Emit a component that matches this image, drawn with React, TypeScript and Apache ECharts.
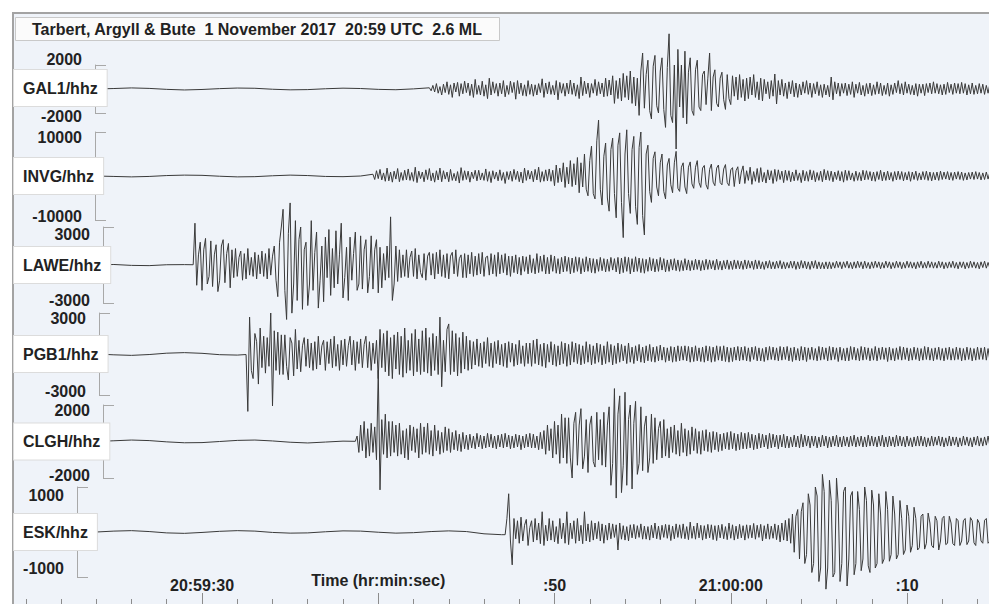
import React, { useEffect, useRef } from 'react';
import * as echarts from 'echarts';

// ---------- data (counts; time in seconds after 20:59:00 UTC) ----------
const TITLE = 'Tarbert, Argyll & Bute  1 November 2017  20:59 UTC  2.6 ML';
const STATIONS = ['GAL1/hhz', 'INVG/hhz', 'LAWE/hhz', 'PGB1/hhz', 'CLGH/hhz', 'ESK/hhz'];
const RANGES = [2000, 10000, 3000, 3000, 2000, 1000];
const ONSETS = [42.9, 39.7, 29.5, 32.5, 38.7, 47.2];
const PRE_START = 24;
const PRE_STEP = 1;
const SIG_STEP = 0.1;

const TIME_TICKS_MINOR = [20, 22, 24, 26, 28, 30, 32, 34, 36, 38, 40, 42, 44, 46, 48, 50, 52, 54, 56, 58, 60, 62, 64, 66, 68, 70, 72, 74];
const TIME_TICKS_MAJOR = [30, 40, 50, 60, 70];
const TIME_LABELS = ['20:59:30', 'Time (hr:min:sec)', ':50', '21:00:00', ':10'];

const GAL1_PRE = [0, 40, 90, 50, -30, -80, -40, 30, 80, 60, -20, -70, -50, 20, 70, 40, -30, -60, 10];
const GAL1_SIG = [
  100, -150, 300, -250, 450, -350, 200, -500, 400, -300, 600, -450, 350, -700, 500, -250, 550, -600, 450, -400,
  650, -300, 500, -550, 400, -700, 800, -450, 300, -500, 650, -600, 350, -800, 900, -500, 600, -350, 450, -600,
  500, -400, 700, -650, 300, -450, 650, -300, 550, -850, 700, -400, 500, -550, 350, -600, 700, -450, 400, -600,
  350, -500, 450, -300, 850, -700, 500, -400, 600, -450, 300, -500, 700, -900, 550, -350, 450, -600, 500, -400,
  750, -450, 500, -600, 350, -800, 1000, -550, 650, -400, 500, -700, 450, -350, 800, -550, 600, -400, 500, -650,
  900, -600, 750, -500, 1100, -1200, 700, -800, 900, -1000, 1300, -700, 1100, -900, 1500, -1200, 1000, -1400, 900, -2200,
  1500, 3000, -1600, 1200, 2400, -1800, -2500, 1900, 2800, -1400, -2000, 1500, 2600, -1700, -3200, 1800, 4600, -2200, -2800, 2000,
  -5000, 3300, -1500, 2000, -2400, 3150, -2900, 1400, 2600, -1800, -2200, 1600, 2400, -1500, -1800, 1200, 1500, -1300, 900, 3000,
  -1800, 1000, 1600, -1200, -1500, 900, 1400, -900, -1700, 1200, -800, -1300, 1100, -600, 1000, -900, 1200, -700, 800, -1000,
  900, -800, 1000, -500, 1200, -700, 600, -900, 900, -1000, 800, -400, 600, -800, 700, -600, 1250, -1250, 700, -500,
  800, -600, 500, -800, 600, -400, 700, -650, 500, -700, 400, -500, 600, -350, 700, -450, 500, -700, 450, -400,
  600, -550, 350, -700, 400, -500, 300, -650, 1000, -900, 600, -400, 500, -600, 450, -350, 500, -550, 400, -450,
  600, -700, 400, -350, 550, -500, 300, -600, 450, -400, 500, -550, 350, -450, 600, -400, 500, -550, 300, -450,
  500, -600, 350, -450, 500, -300, 700, -400, 450, -500, 600, -350, 400, -450, 300, -500, 450, -600, 400, -350,
  400, -550, 450, -300, 500, -400, 600, -350, 450, -400, 350, -500, 400, -450, 550, -300, 400, -450, 500, -350,
  450, -400, 550, -350, 450, -500, 350, -400, 500, -450, 300, -400, 450, -350, 400, -450, 300, -350, 400, -300,
];

const INVG_PRE = [0, -100, -200, -100, 100, 200, 150, -50, -200, -150, 50, 200, 100, -100, -150, 0];
const INVG_SIG = [
  400, -800, 1200, -600, 1500, -900, 700, -1200, 1800, -1100, 900, -1400, 1100, -700, 1700, -1300, 800, -1000, 1300, -900,
  1600, -1000, 800, -1200, 2000, -1500, 1100, -600, 900, -1300, 1400, -800, 1700, -1100, 700, -1400, 1200, -900, 1800, -1300,
  1200, -700, 900, -1300, 1500, -1000, 600, -1100, 1000, -1600, 1900, -1000, 1200, -800, 1100, -1400, 900, -600, 1300, -1100,
  1300, -900, 700, -1000, 1600, -1200, 1000, -1500, 1200, -700, 900, -1100, 1400, -1000, 800, -1700, 1000, -800, 1100, -1200,
  1500, -800, 1100, -1300, 900, -1600, 1800, -1000, 1300, -700, 1100, -1300, 1500, -900, 2000, -1400, 1000, -1200, 1400, -1100,
  1600, -1200, 1300, -2200, 2500, -1500, 1800, -1300, 3000, -2600, 2000, -1800, 3500, -2400, 2800, -2000, 4200, -3800, 3000, -2500,
  5000, -3000, -4500, 3500, 6800, -4000, -5200, 8000, 12700, -3000, -6600, 4500, 7500, -5000, -8000, 6000, 8600, -4000, -9500, 7000,
  9800, -6000, -14000, 5000, 10500, -4000, -8500, 6000, 9000, -7000, -11000, 6500, 10000, -9000, -13400, 5000, 7000, -3500, -6000, 4000,
  5500, -2500, -4500, 3000, 5000, -3500, -5200, 2500, 4000, -2000, -3800, 3000, 5600, -2800, -3500, 2000, 3000, -2500, -4000, 2000,
  3200, -1800, -2800, 2000, 3500, -1500, -2600, 1800, 2400, -2000, -3000, 1500, 2700, -1400, -2200, 1800, 2500, -1500, -2000, 1600,
  2600, -1500, -2200, 1400, 1900, -2400, 1200, 2100, -1800, 900, 2300, -1700, 1200, -1000, 2000, -1900, 1000, -1200, 1700, -1500,
  1900, -1300, 800, -1600, 1400, -900, 1200, -1700, 1500, -1200, 1400, -800, 1100, -1500, 1300, -1000, 1200, -1300, 900, -1100,
  1400, -1000, 700, -1500, 1300, -1100, 1000, -1200, 1400, -900, 1200, -1300, 800, -1000, 1100, -1300, 1500, -900, 1200, -1000,
  1100, -1300, 900, -800, 1200, -1100, 1000, -1400, 1300, -1000, 1200, -900, 700, -1200, 1100, -1000, 800, -1100, 1300, -900,
  1200, -800, 1000, -1100, 900, -1200, 1000, -800, 1300, -1100, 900, -1000, 1100, -900, 800, -1200, 1000, -900, 1100, -800,
  1000, -1100, 800, -900, 1000, -1200, 900, -800, 1100, -1000, 700, -900, 1000, -800, 1100, -1000, 900, -1100, 800, -900,
  900, -1000, 1100, -800, 900, -700, 1000, -900, 800, -1000, 900, -700, 1000, -800, 900, -1000, 700, -900, 800, -700,
  900, -800, 1000, -700, 800, -900, 700, -800, 900, -700, 800, -600,
];

const LAWE_PRE = [0, 40, -30, -50, 20, 30];
const LAWE_SIG = [
  20, 3300, -1600, 800, 1800, -2000, 1200, 2100, -1500, -900, 1900, -1700, 800, 1600, -2100, -1200, 1500, 2000, -1400, 900, 1700,
  -1800, 1200, -1000, 1300, -900, 600, 1100, -1200, 900, -1100, 1300, -800, 600, -900, 1000, -1100, 800, -700, 1100, -900,
  900, -1100, 1300, -800, 700, 1500, -1200, -2500, 1800, 3000, 4400, -2000, -4300, 2500, 4900, -3800, -1500, 3500, -2800, 2000,
  3000, -3500, 1200, 1800, -3200, -1500, 3500, -2000, 1000, 2600, -3400, -1200, 1500, -2900, 2200, -1000, 2800, -2400, 1300, -1800,
  2700, -1500, 800, 3300, -2600, -1000, 1400, -2800, 2200, -1200, 900, 2600, -2000, -1500, 2300, -1900, 1200, 2000, -2200, -900,
  2300, -1900, 1200, 2000, -2200, 1400, -1800, 900, -1200, 1500, -1000, 3800, -2800, -1500, 1500, -1300, 1200, -1000, 800, -900,
  1200, -1000, 600, 1100, -900, 1300, -1100, 800, -600, -1000, 900, -1200, 700, 1000, -800, 900, -1100, 1000, -700, 1200,
  -900, 800, -1000, 900, -1100, 700, 1000, -700, 1200, -900, 500, 800, -1000, 900, -1000, 800, -700, 1000, -900, 700,
  -800, 900, -700, 1000, -900, 600, 700, -800, 900, -700, 800, -900, 1000, -700, 800, -600, 900, -800, 700, -900,
  700, -600, 800, -700, 600, -800, 700, -500, 650, -700, 800, -600, 500, -700, 900, -600, 700, -500, 800, -700,
  600, -700, 800, -500, 700, -650, 500, -700, 600, -550, 700, -500, 600, -700, 550, -600, 650, -500, 600, -700,
  500, -550, 650, -500, 550, -600, 500, -650, 450, -500, 600, -450, 500, -550, 450, -500, 600, -400, 500, -550,
  600, -700, 550, -600, 650, -500, 600, -700, 500, -550, 650, -500, 550, -600, 500, -650, 450, -500, 600, -450,
  500, -550, 450, -500, 600, -400, 500, -550, 400, -500, 450, -400, 500, -450, 400, -500, 350, -450, 500, -400,
  400, -450, 350, -400, 450, -350, 400, -450, 350, -400, 450, -350, 400, -300, 350, -400, 450, -350, 300, -400,
  350, -300, 400, -350, 300, -350, 400, -300, 350, -300, 300, -350, 400, -300, 350, -250, 300, -350, 400, -300,
  350, -300, 250, -350, 300, -250, 350, -300, 250, -300, 300, -250, 350, -300, 250, -300, 200, -250, 300, -250,
  300, -350, 250, -300, 350, -250, 300, -300, 250, -350, 300, -250, 350, -300, 250, -300, 200, -300, 250, -300,
  250, -300, 200, -250, 300, -200, 250, -300, 250, -200, 300, -250, 200, -300, 250, -250, 300, -200, 250, -300,
  300, -250, 200, -300, 250, -250, 300, -200, 250, -300, 200, -250, 300, -200, 250, -300, 200, -250, 300, -200,
  250, -300, 200, -250, 300, -200, 250, -250, 200, -300, 250, -200, 300, -250, 200, -250, 300, -200, 250, -250,
  200, -250, 300, -200, 250, -300, 200, -250, 250, -200, 300, -250, 200, -300, 250, -200, 250, -300, 200, -250,
  300, -200, 250, -250, 200, -300, 250, -200, 300, -250, 200, -250, 300, -200,
];

const PGB1_PRE = [0, -60, -100, -40, 60, 100, 50, -50, -80];
const PGB1_SIG = [
  -40, -4200, 2700, -1200, -1800, 1500, 900, -2200, 1900, -1000, 1300, -1400, 1200, -900, 3000, -3800, 1700, -1200, 1600, -1500, 1400,
  -1500, 1400, -900, -1900, 1200, 800, -1600, 1800, -1100, 1000, -1300, 600, 1200, -900, 1100, -1000, 800, -1200, 900, -1100,
  1300, -800, 600, 1000, -1200, 900, -700, 1100, -1000, 1300, -900, 700, -1200, 1000, -800, 1100, -900, 600, 1300, -800,
  1000, -1200, 900, -700, 1100, -1000, 700, 1300, -1000, 900, -1200, 800, -700, 1000, -1800, 1800, -1000, 1500, -1300, 1700,
  -1600, 1200, -1800, 1400, -1100, 1600, -1500, 1300, -1700, 1900, -1400, 1000, -1200, 1500, -1600, 1800, -1300, 1100, -1500, 1700,
  -1300, 1900, -1400, 1200, -1600, 1500, -1200, 1300, -1500, 2700, -2400, 1000, -1300, 1800, 2200, -1500, 1700, -1300, 1500, -1600,
  1200, -1400, 1600, -1100, 1300, -1200, 1000, -1100, 900, -800, 1100, -900, 800, -1000, 900, -700, 1200, -900, 800, -1000,
  900, -700, 1000, -800, 700, -900, 800, -1000, 900, -600, 800, -900, 700, -800, 1000, -700, 600, -900, 800, -700,
  800, -900, 1000, -700, 1100, -800, 700, -900, 800, -1000, 700, -600, 900, -800, 700, -900, 600, -800, 900, -700,
  800, -900, 700, -800, 900, -600, 800, -700, 700, -800, 600, -700, 900, -600, 700, -800, 600, -700, 800, -600,
  700, -800, 600, -700, 900, -600, 700, -800, 600, -700, 800, -600, 700, -500, 600, -700, 800, -600, 500, -700,
  600, -500, 700, -600, 500, -650, 600, -500, 700, -550, 500, -600, 550, -500, 650, -450, 500, -600, 450, -500,
  550, -600, 500, -550, 600, -500, 550, -450, 600, -500, 550, -600, 500, -550, 600, -500, 450, -550, 500, -600,
  600, -500, 550, -600, 500, -550, 600, -450, 550, -500, 600, -550, 500, -600, 450, -550, 500, -450, 550, -500,
  500, -450, 550, -500, 450, -550, 500, -400, 550, -500, 450, -500, 400, -550, 500, -450, 550, -400, 500, -450,
  450, -500, 550, -450, 500, -400, 550, -500, 450, -550, 500, -450, 400, -500, 550, -450, 500, -550, 450, -400,
  500, -450, 400, -500, 550, -450, 500, -400, 450, -500, 550, -450, 500, -400, 450, -550, 500, -450, 400, -500,
  450, -500, 550, -400, 500, -450, 400, -500, 550, -450, 500, -400, 450, -500, 400, -450, 550, -500, 450, -400,
  500, -400, 450, -550, 500, -450, 400, -500, 450, -400, 550, -450, 500, -400, 450, -500, 400, -450, 500, -400,
  450, -500, 400, -450, 550, -400, 500, -450, 400, -500, 450, -400, 500, -450, 400, -500, 450, -400, 500, -450,
  400, -450, 500, -400, 450, -500, 400, -450, 500, -400, 450, -500, 400, -450, 500, -400, 450, -400, 500, -450,
  400, -450, 400,
];

const CLGH_PRE = [0, 40, 80, 50, -20, -70, -60, 0, 60, 80, 30, -40, -80, -30, 20];
const CLGH_SIG = [
  10, 300, -600, 900, -500, 1100, -900, 700, -800, 1000, -600, 800, -1000, 3900, -2650, 1200, -700, 1500, -900, 1100, -800,
  1100, -600, 900, -800, 1000, -700, 600, -900, 700, -1000, 900, -500, 800, -600, 700, -900, 1000, -700, 800, -600,
  1000, -700, 600, -800, 900, -500, 600, -700, 500, -600, 800, -500, 700, -600, 500, -450, 600, -500, 400, -550,
  500, -400, 350, -450, 400, -350, 300, -400, 450, -300, 350, -400, 300, -350, 450, -300, 400, -350, 300, -400,
  350, -300, 400, -350, 450, -300, 350, -400, 300, -350, 400, -300, 350, -450, 300, -350, 400, -300, 450, -350,
  400, -350, 300, -450, 500, -400, 600, -700, 900, -500, 700, -900, 1100, -700, 900, -1200, 1500, -900, 1300, -1200,
  1300, -900, -2000, 1000, 1600, -1300, 900, 1800, -1500, -800, 1200, -1700, 900, 1400, -1100, -1400, 1600, -1000, 1200, -1300,
  1600, -1400, 900, 1900, -2400, -1200, 2900, -3100, 1500, 2500, -2800, -1300, 2700, -2400, 1200, 2000, -2600, 1000, 2200, -1800,
  -1200, 1900, -1600, 800, 1400, -1700, -900, 1500, -1200, 1300, -1000, 700, 1100, -900, 1200, -800, 700, -900, 800, -600,
  900, -700, 600, -800, 1000, -600, 700, -800, 600, -700, 800, -500, 700, -650, 550, -700, 600, -500, 650, -550,
  500, -600, 550, -450, 500, -550, 400, -500, 450, -400, 500, -450, 550, -400, 450, -500, 400, -450, 500, -400,
  450, -400, 500, -350, 400, -450, 350, -400, 450, -350, 400, -300, 350, -400, 450, -350, 400, -300, 350, -400,
  350, -300, 400, -350, 300, -350, 250, -300, 350, -300, 300, -350, 400, -300, 350, -250, 300, -350, 300, -250,
  300, -350, 250, -300, 350, -250, 300, -350, 250, -300, 300, -250, 350, -300, 250, -300, 300, -250, 250, -300,
  300, -250, 350, -300, 250, -250, 300, -300, 250, -300, 350, -250, 300, -250, 250, -300, 300, -250, 350, -300,
  250, -300, 300, -250, 250, -300, 350, -250, 300, -250, 250, -300, 300, -250, 200, -300, 250, -250, 300, -250,
  300, -250, 250, -300, 200, -250, 300, -250, 250, -200, 300, -250, 250, -300, 200, -250, 300, -250, 250, -200,
  250, -300, 200, -250, 300, -200, 250, -250, 200, -300, 250, -200, 300, -250, 200, -250, 250, -200, 300, -250,
  250,
];

const ESK_PRE = [0, 20, 30, 10, -20, -30, -10, 15, 30, 20, -10, -25, -20, 5, 25, 20, -5, -25, -15, 10, 25, 10, -40, -60];
const ESK_SIG = [
  -60, 300, 850, -200, -730, 300, -150, 250, -250, 330, -200, 150, 280, -300, 100, 250, -220, 300, -180, 200,
  -260, 450, -300, 150, -200, 300, -180, 250, -220, 120, -260, 300, -150, 200, -250, 450, -280, 200, -150, 250,
  -250, 300, -200, 150, -260, 450, -200, 180, -220, 250, -180, 200, -150, 230, -200, 180, -250, 150, -180, 200,
  -150, 180, -120, 160, -400, 200, -160, 140, -180, 120, -200, 160, -130, 170, -150, 140, -120, 180, -160, 130,
  -160, 120, -180, 150, -130, 200, -150, 130, -170, 150, -120, 170, -140, 160, -190, 130, -150, 180, -120, 160,
  -140, 180, -150, 120, -170, 220, -140, 130, -160, 200, -130, 150, -180, 140, -150, 170, -130, 160, -170, 140,
  -190, 150, -130, 170, -150, 120, -170, 200, -140, 160, -180, 130, -150, 170, -130, 140, -180, 160, -140, 150,
  -130, 190, -160, 150, -120, 170, -200, 140, -150, 180, -160, 130, -140, 180, -170, 150, -220, 200, -180, 260,
  -200, 300, -250, 400, -450, 350, 500, -600, 450, 650, -700, -500, 850, 600, -900, -700, 1000, 800, -1100, -800,
  1280, 900, -1270, -800, 1150, 700, -1000, -900, 1200, 600, -1100, -700, 900, 1000, -1200, -600, 800, 900, -950, -700,
  900, 500, -860, -600, 1000, 700, -750, -900, 930, 600, -800, -700, 850, 400, -700, -600, 900, 500, -650, -500,
  800, 400, -600, -500, 700, 300, -500, -400, 600, 350, -450, -300, 550, 300, -400, -350, 350, 400, -380, -250,
  420, 200, -300, -350, 350, 250, -400, -200, 300, 350, -280, -250, 350, 200, -260, -300, 300, 250, -300, -200,
  250, 300, -280, -200, 320, 250, -240, -300, 280, 200, -200, -250, 260, 300, -250, -200, 280,
];

const PRE = [GAL1_PRE, INVG_PRE, LAWE_PRE, PGB1_PRE, CLGH_PRE, ESK_PRE];
const SIG = [GAL1_SIG, INVG_SIG, LAWE_SIG, PGB1_SIG, CLGH_SIG, ESK_SIG];

// ---------- layout ----------
const CHART_W = 1010;
const CHART_H = 625;
const PX_PER_SEC = 17.625;
const X_AT_20 = 25.75; // pixel x of 20:59:20
const FRAME_LEFT = 13;
const FRAME_TOP = 13;
const AXIS_Y = 606;
// bracket x / top tick / bottom tick, and label shifts (px) for the top and bottom labels
const BRACKETS = [
  { x: 95, top: 65, bottom: 113, shift: [-6, 3] },
  { x: 95, top: 132, bottom: 220, shift: [5, -4] },
  { x: 103, top: 227, bottom: 303, shift: [7, -3] },
  { x: 99, top: 313, bottom: 395, shift: [5, -4] },
  { x: 103, top: 405, bottom: 478, shift: [5, -3] },
  { x: 77, top: 487, bottom: 577, shift: [8, -9] },
];
const FONT = '"Liberation Sans", Arial, Helvetica, sans-serif';
const TEXT = '#222';
const tAt = (x: number) => 20 + (x - X_AT_20) / PX_PER_SEC;
const T_MAX = tAt(CHART_W);

function buildTrace(pre: number[], sig: number[], onset: number) {
  const pts: number[][] = [];
  pre.forEach((v, i) => pts.push([PRE_START + i * PRE_STEP, v]));
  sig.forEach((v, i) => pts.push([+(onset + i * SIG_STEP).toFixed(2), v]));
  return pts;
}

const padFor = (s: number) => (s >= 0 ? [2 * s, 0, 0, 0] : [0, 0, -2 * s, 0]);

function buildOption() {
  const labelFont = { fontFamily: FONT, fontSize: 16, fontWeight: 'bold', color: TEXT };
  const grid: any[] = [
    {
      left: FRAME_LEFT, top: FRAME_TOP, right: 0, bottom: CHART_H - AXIS_Y,
      show: true, backgroundColor: '#eff3f9', borderColor: '#a3a3a3', borderWidth: 2,
    },
  ];
  const xAxis: any[] = [
    {
      gridIndex: 0, type: 'value', position: 'bottom', min: tAt(FRAME_LEFT), max: T_MAX,
      axisLine: { show: false }, splitLine: { show: false }, axisLabel: { show: false },
      axisTick: { show: true, inside: true, length: 7, customValues: TIME_TICKS_MINOR, lineStyle: { color: '#8c8c8c', width: 1 } },
    },
    {
      gridIndex: 0, type: 'value', position: 'bottom', min: tAt(FRAME_LEFT), max: T_MAX,
      axisLine: { show: false }, splitLine: { show: false },
      axisTick: { show: true, inside: true, length: 13, customValues: TIME_TICKS_MAJOR, lineStyle: { color: '#8c8c8c', width: 1 } },
      axisLabel: {
        show: true, inside: true, margin: 13, customValues: TIME_TICKS_MAJOR,
        ...labelFont,
        formatter: (v: number) => {
          const i = TIME_TICKS_MAJOR.indexOf(Math.round(v));
          const s = i >= 0 ? TIME_LABELS[i] : '';
          return i === 1 ? `{nm|${s}}` : s;
        },
        rich: { nm: { ...labelFont, padding: [0, 0, 5, 0] } },
      },
    },
  ];
  const yAxis: any[] = [{ gridIndex: 0, type: 'value', show: false, min: 0, max: 1 }];
  const series: any[] = [];

  BRACKETS.forEach((b, i) => {
    const R = RANGES[i];
    grid.push({ left: b.x, right: 0, top: b.top, height: b.bottom - b.top, show: false });
    xAxis.push({ gridIndex: i + 1, type: 'value', show: false, min: tAt(b.x), max: T_MAX });
    yAxis.push({
      gridIndex: i + 1, type: 'value', min: -R, max: R, position: 'left',
      splitLine: { show: false },
      axisLine: { show: true, lineStyle: { color: '#a8a8a8', width: 1 } },
      axisTick: { show: true, inside: true, length: 11, customValues: [-R, R], lineStyle: { color: '#a8a8a8', width: 1 } },
      axisLabel: {
        show: true, margin: 13, customValues: [-R, R], ...labelFont,
        formatter: (v: number) => (v > 0 ? `{t|${v}}` : `{b|${v}}`),
        rich: {
          t: { ...labelFont, padding: padFor(b.shift[0]) },
          b: { ...labelFont, padding: padFor(b.shift[1]) },
        },
      },
    });
    series.push({
      type: 'line', name: STATIONS[i], xAxisIndex: i + 2, yAxisIndex: i + 1,
      data: buildTrace(PRE[i], SIG[i], ONSETS[i]),
      showSymbol: false, symbol: 'none', clip: false, silent: true,
      lineStyle: { color: '#3a3a3a', width: 1 },
      z: 3,
    });
  });

  const graphic = STATIONS.map((name, i) => {
    const b = BRACKETS[i];
    const yc = i === 0 ? 88 : (b.top + b.bottom) / 2;
    return {
      type: 'text', z: 100, x: 14, y: yc,
      style: {
        text: name, font: `bold 16px ${FONT}`, fill: TEXT,
        align: 'left', verticalAlign: 'middle',
        backgroundColor: '#ffffff', borderColor: '#dcdcdc', borderWidth: 1,
        padding: [10, 9, 10, 9],
      },
    };
  });

  return {
    animation: false,
    backgroundColor: '#ffffff',
    title: {
      text: TITLE, left: 15, top: 17, padding: [4, 17, 4, 17],
      backgroundColor: '#fbfbfb', borderColor: '#c9c9c9', borderWidth: 1,
      textStyle: { ...labelFont },
    },
    grid, xAxis, yAxis, series, graphic,
  };
}

export default function App() {
  const ref = useRef<HTMLDivElement>(null);
  useEffect(() => {
    if (!ref.current) return;
    const chart = echarts.init(ref.current, null, { renderer: 'svg' });
    chart.setOption(buildOption() as any);
    return () => chart.dispose();
  }, []);
  return (
    <div style={{ position: 'fixed', left: 0, top: 0, width: 989, height: 604, overflow: 'hidden', background: '#fff' }}>
      <div ref={ref} style={{ width: CHART_W, height: CHART_H }} />
    </div>
  );
}
